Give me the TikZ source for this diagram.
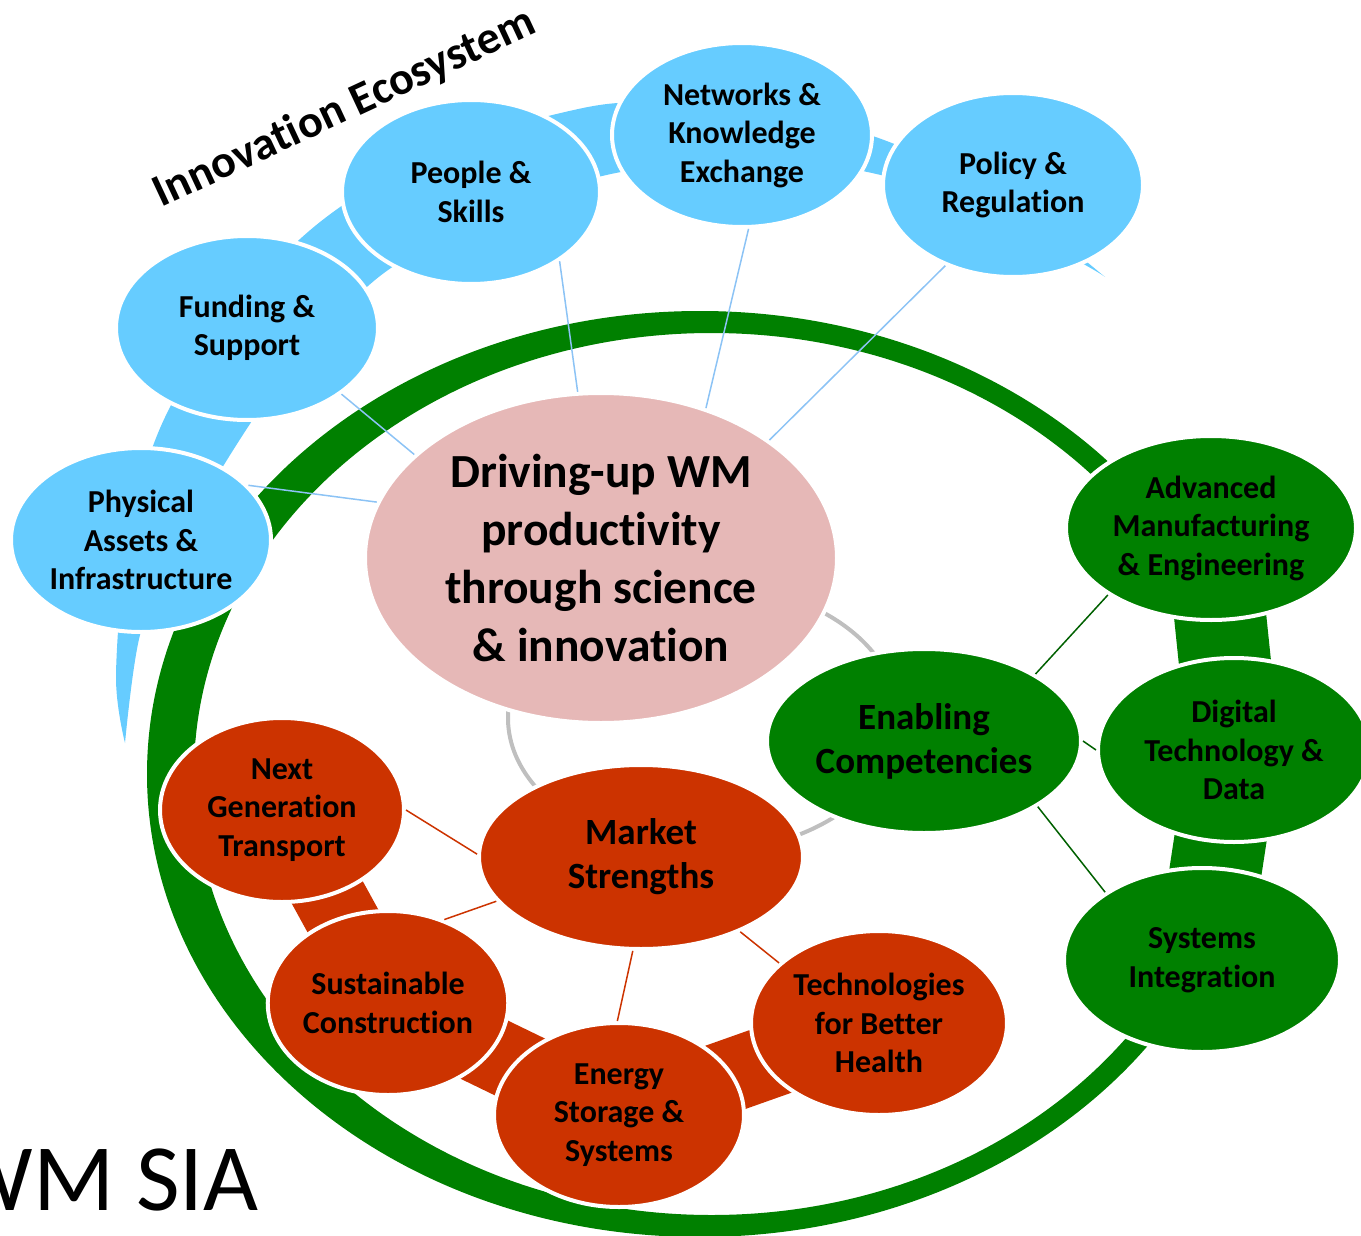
\documentclass[tikz,border=0pt]{standalone}
\usepackage{fontspec}
\setmainfont{Carlito}[Ligatures=NoCommon]
\usetikzlibrary{shapes.geometric}
\definecolor{skyb}{RGB}{102,204,255}
\definecolor{pinkc}{RGB}{230,184,183}
\definecolor{redc}{RGB}{204,51,0}
\definecolor{greenc}{RGB}{0,128,0}
\definecolor{greyc}{RGB}{191,191,191}
\definecolor{blinec}{RGB}{140,195,245}
\definecolor{glinec}{RGB}{0,96,0}
\pgfdeclarelayer{bg}
\pgfsetlayers{bg,main}
\tikzset{
  oval/.style={ellipse, draw=white, line width=2pt, inner sep=0pt, text=black},
  bnode/.style={oval, fill=skyb, txt},
  rnode/.style={oval, fill=redc, txt},
  gnode/.style={oval, fill=greenc, txt},
  txt/.style={font=\bfseries\fontsize{16}{19.25}\selectfont, align=center,
    execute at begin node={\rule{0pt}{0.9em}}},
  bigtxt/.style={font=\bfseries\fontsize{18.5}{22}\selectfont, align=center,
    execute at begin node={\rule{0pt}{1em}}},
  hubtxt/.style={font=\bfseries\fontsize{23.75}{29}\selectfont, align=center},
  bline/.style={draw=blinec, line width=0.75pt},
  rline/.style={draw=redc, line width=0.75pt},
  gline/.style={draw=glinec, line width=0.75pt},
  rband/.style={draw=redc, line width=36.5pt},
  gband/.style={draw=greenc, line width=46pt},
}
\begin{document}
\begin{tikzpicture}[x=0.5pt,y=-0.5pt]
\useasboundingbox (0,0) rectangle (1361,1236);
\clip (0,0) rectangle (1361,1236);

% ---------- nodes ----------
\node[oval, fill=pinkc, hubtxt, minimum width=236pt, minimum height=165pt] (hub) at (601,558)
  {Driving-up WM\\productivity\\through science\\\& innovation};

\node[bnode, minimum width=130pt, minimum height=92pt] (phys) at (141,540) {Physical\\Assets \&\\Infrastructure};
\node[bnode, minimum width=131pt, minimum height=92pt] (fund) at (247,328) {Funding \&\\Support};
\node[bnode, minimum width=129pt, minimum height=92pt] (people) at (471,192) {People \&\\Skills};
\node[bnode, minimum width=130pt, minimum height=92pt] (netw) at (742,135) {Networks \&\\Knowledge\\Exchange};
\node[bnode, minimum width=130pt, minimum height=92pt] (policy) at (1013,185) {Policy \&\\Regulation};

\node[rnode, bigtxt, minimum width=162pt, minimum height=92pt] (market) at (641,857) {Market\\Strengths};
\node[rnode, minimum width=122pt, minimum height=92pt] (ng) at (282,810) {Next\\Generation\\Transport};
\node[rnode, minimum width=120pt, minimum height=92pt] (sc) at (388,1003) {Sustainable\\Construction};
\node[rnode, minimum width=125pt, minimum height=92pt] (es) at (619,1115) {Energy\\Storage \&\\Systems};
\node[rnode, minimum width=128pt, minimum height=92pt] (th) at (879,1023) {Technologies\\for Better\\Health};

\node[gnode, bigtxt, minimum width=157pt, minimum height=92pt] (enab) at (924,741) {Enabling\\Competencies};
\node[gnode, minimum width=145pt, minimum height=92pt] (adv) at (1211,528) {Advanced\\Manufacturing\\\& Engineering};
\node[gnode, minimum width=136pt, minimum height=92pt] (dig) at (1234,750) {Digital\\Technology \&\\Data};
\node[gnode, minimum width=138pt, minimum height=92pt] (sys) at (1202,960) {Systems\\Integration};

% ---------- titles ----------
\node[font=\bfseries\fontsize{23}{28}\selectfont, rotate=25, anchor=base, inner sep=0pt] (eco) at (350,120) {Innovation Ecosystem};
\node[font=\fontsize{47.5}{57}\selectfont, anchor=base east, inner sep=0pt] (wmsia) at (259,1210) {WM SIA};

% ---------- thin connectors ----------
\draw[bline] (hub.166.7) -- (phys.27.5);
\draw[bline] (hub.151) -- (fund.-35.2);
\draw[bline] (hub.98.2) -- (people.-38.2);
\draw[bline] (hub.55.5) -- (netw.-86.9);
\draw[bline] (hub.35.2) -- (policy.-130.1);

\draw[rline] (market.179.7) -- (ng.-0.9);
\draw[rline] (market.197.1) -- (sc.56.2);
\draw[rline] (market.-95.4) -- (es.91.6);
\draw[rline] (market.-37.6) -- (th.149.9);

\draw[gline] (enab.31.2) -- (adv.213.3);
\draw[gline] (enab.-0.4) -- (dig.180);
\draw[gline] (enab.-30.7) -- (sys.145.5);

% ---------- background bands ----------
\begin{pgfonlayer}{bg}
\fill[skyb] plot[smooth, tension=0.55] coordinates {(125,743) (116,675) (128,540) (161,426) (225,320) (320,222) (440,150) (583,108) (665,103) (775,112) (884,140) (1000,196) (1105,277)}
  -- plot[smooth, tension=0.55] coordinates {(1105,277) (1087,266) (990,212) (872,173) (750,159) (611,174) (490,215) (380,276) (290,370) (237,444) (175,550) (140,635) (125,743)} -- cycle;
\fill[greenc, even odd rule] (700,774) ellipse [x radius=553, y radius=463]
  (711.5,774) ellipse [x radius=517.5, y radius=441];
\draw[greyc, line width=2pt] (703,718) ellipse [x radius=195, y radius=134];
\draw[rband] (ng.center) -- (sc.center);
\draw[rband] (sc.center) -- (es.center);
\draw[rband] (es.center) -- (th.center);
\draw[gband] (adv.center) -- (dig.center);
\draw[gband] (dig.center) -- (sys.center);
\end{pgfonlayer}
\end{tikzpicture}
\end{document}
